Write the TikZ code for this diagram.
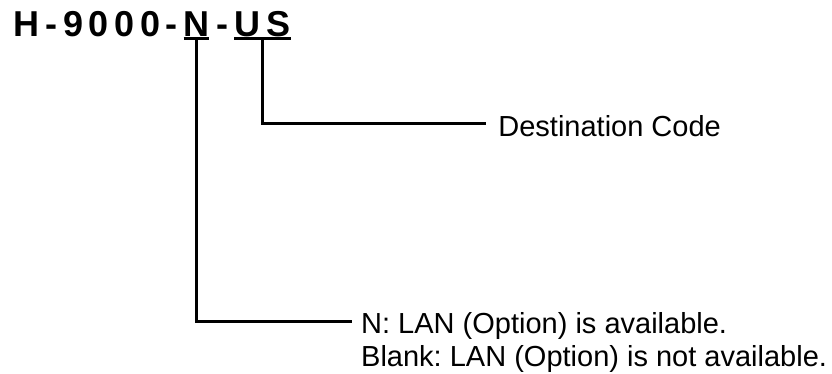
\documentclass[tikz,border=0pt]{standalone}
\usepackage{fontspec}
\setmainfont{Liberation Sans}
\newfontfamily\titlefont{Liberation Sans}[LetterSpace=15.6]
\frenchspacing
\usetikzlibrary{positioning}

\tikzset{
	codepart/.style={inner xsep=0pt, inner ysep=2pt, text depth=0pt, font=\titlefont\bfseries\fontsize{36}{36}\selectfont},
	meaning/.style={inner sep=0pt, text height=25pt, text depth=0pt, font=\fontsize{29}{29}\selectfont},
	leader/.style={line width=3pt}
}

\begin{document}
\begin{tikzpicture}[x=1pt,y=1pt,thick]
	\useasboundingbox (0,0) rectangle (832,-374);
	\node[codepart, anchor=base west] (model) at (13.5,-36.5) {H-9000-};
	\node[codepart, right=5.5pt of model.base east, anchor=base west] (optN) {N};
	\node[codepart, right=5.5pt of optN.base east, anchor=base west] (sep) {-};
	\node[codepart, right=5.5pt of sep.base east, anchor=base west] (dest) {US};
	\node[meaning, anchor=west] (destText) at (498,-124) {Destination Code};
	\node[meaning, anchor=west] (lanYes) at (360.8,-321) {N: LAN (Option) is available.};
	\node[meaning, below=7pt of lanYes.south west, anchor=north west] (lanNo) {Blank: LAN (Option) is not available.};
	\draw[leader, shorten >=1pt] (optN.south west) -- (optN.south east);
	\draw[leader] (dest.south west) -- (dest.south east);
	\draw[leader, shorten >=12pt] (dest.south) |- (destText.west);
	\draw[leader, shorten >=9pt] (optN.south) |- (lanYes.west);
\end{tikzpicture}
\end{document}
